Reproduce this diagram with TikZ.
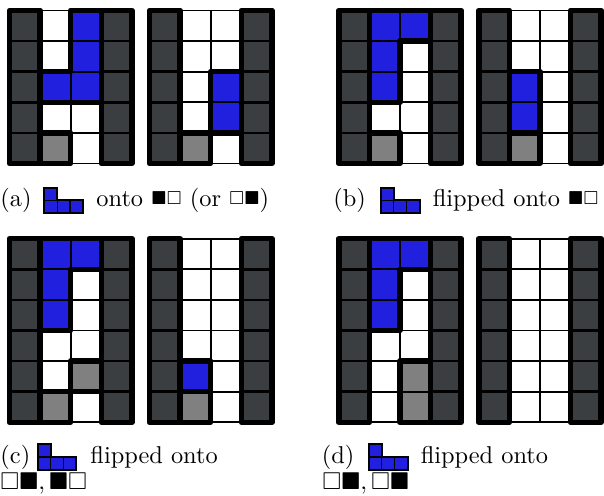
\documentclass[tikz,border=0pt]{standalone}
\usepackage{amsmath, amssymb}
\usepackage{tikz}
\usetikzlibrary{arrows.meta, positioning}

\definecolor{wallgray}{RGB}{59,62,65}
\definecolor{pieceblue}{RGB}{32,32,222}
\definecolor{holegray}{RGB}{128,128,128}

\tikzset{
    wall/.style={fill=wallgray},
    piece/.style={fill=pieceblue, draw=black, line width=0.7pt},
    hole/.style={fill=holegray, draw=black, line width=0.7pt},
    gridline/.style={line width=0.7pt},
    wallline/.style={line width=1.1pt},
    heavy/.style={line width=2.26pt, line join=round},
    iconcell/.style={fill=pieceblue, draw=black, line width=0.5pt},
    iconframe/.style={line width=0.8pt},
    caption/.style={anchor=base west, inner sep=0pt},
}

\begin{document}
\begin{tikzpicture}[x=12.56pt, y=12.56pt]
    \useasboundingbox (0,0) rectangle (19.739,16.209);

    % walls and empty cells of the eight boards
    \foreach \bx/\by/\n in {0.31/10.866/5, 4.886/10.866/5, 11.072/10.866/5, 15.647/10.866/5,
                            0.31/2.408/6, 4.886/2.408/6, 11.072/2.408/6, 15.647/2.408/6} {
        \begin{scope}[shift={(\bx,\by)}]
            \fill[wall] (0,0) rectangle (1,\n) (3,0) rectangle (4,\n);
            \draw[gridline, step=1] (1,0) grid (3,\n);
            \draw[wallline, step=1] (0,0) grid (1,\n) (3,0) grid (4,\n);
            \draw[heavy] (0,0) rectangle (1,\n) (3,0) rectangle (4,\n);
        \end{scope}
    }

    % (a)
    \begin{scope}[shift={(0.31,10.866)}]
        \foreach \c/\r in {2/4, 2/3, 1/2, 2/2} \path[piece] (\c,\r) rectangle +(1,1);
        \path[hole] (1,0) rectangle +(1,1);
        \draw[heavy] (2,5) -- (3,5) -- (3,2) -- (1,2) -- (1,3) -- (2,3) -- cycle;
        \draw[heavy] (1,0) rectangle (2,1);
    \end{scope}
    \begin{scope}[shift={(4.886,10.866)}]
        \foreach \c/\r in {2/2, 2/1} \path[piece] (\c,\r) rectangle +(1,1);
        \path[hole] (1,0) rectangle +(1,1);
        \draw[heavy] (2,1) rectangle (3,3);
        \draw[heavy] (1,0) rectangle (2,1);
    \end{scope}

    % (b)
    \begin{scope}[shift={(11.072,10.866)}]
        \foreach \c/\r in {1/4, 2/4, 1/3, 1/2} \path[piece] (\c,\r) rectangle +(1,1);
        \path[hole] (1,0) rectangle +(1,1);
        \draw[heavy] (1,5) -- (3,5) -- (3,4) -- (2,4) -- (2,2) -- (1,2) -- cycle;
        \draw[heavy] (1,0) rectangle (2,1);
    \end{scope}
    \begin{scope}[shift={(15.647,10.866)}]
        \foreach \c/\r in {1/2, 1/1} \path[piece] (\c,\r) rectangle +(1,1);
        \path[hole] (1,0) rectangle +(1,1);
        \draw[heavy] (1,1) rectangle (2,3);
        \draw[heavy] (1,0) rectangle (2,1);
    \end{scope}

    % (c)
    \begin{scope}[shift={(0.31,2.408)}]
        \foreach \c/\r in {1/5, 2/5, 1/4, 1/3} \path[piece] (\c,\r) rectangle +(1,1);
        \foreach \c/\r in {2/1, 1/0} \path[hole] (\c,\r) rectangle +(1,1);
        \draw[heavy] (1,6) -- (3,6) -- (3,5) -- (2,5) -- (2,3) -- (1,3) -- cycle;
        \draw[heavy] (2,1) rectangle (3,2) (1,0) rectangle (2,1);
    \end{scope}
    \begin{scope}[shift={(4.886,2.408)}]
        \path[piece] (1,1) rectangle +(1,1);
        \path[hole] (1,0) rectangle +(1,1);
        \draw[heavy] (1,1) rectangle (2,2) (1,0) rectangle (2,1);
    \end{scope}

    % (d)
    \begin{scope}[shift={(11.072,2.408)}]
        \foreach \c/\r in {1/5, 2/5, 1/4, 1/3} \path[piece] (\c,\r) rectangle +(1,1);
        \foreach \c/\r in {2/1, 2/0} \path[hole] (\c,\r) rectangle +(1,1);
        \draw[heavy] (1,6) -- (3,6) -- (3,5) -- (2,5) -- (2,3) -- (1,3) -- cycle;
        \draw[heavy] (2,0) rectangle (3,2);
    \end{scope}

    % small pieces in the captions
    \foreach \ix/\iy in {1.448/9.239, 12.451/9.239, 1.232/0.850, 12.059/0.850} {
        \begin{scope}[shift={(\ix,\iy)}, scale=0.42]
            \foreach \c/\r in {0/0, 1/0, 2/0, 0/1} \path[iconcell] (\c,\r) rectangle +(1,1);
            \draw[iconframe] (0,0) -- (3,0) -- (3,1) -- (1,1) -- (1,2) -- (0,2) -- cycle;
        \end{scope}
    }

    \node[caption] (laba) at (0,9.461) {(a)};
    \node[caption] (texta) at (3.137,9.461) {onto \raisebox{1pt}{$\scriptstyle\blacksquare\square$} (or \raisebox{1pt}{$\scriptstyle\square\blacksquare$})};
    \node[caption] (labb) at (10.882,9.461) {(b)};
    \node[caption] (textb) at (14.127,9.461) {flipped onto \raisebox{1pt}{$\scriptstyle\blacksquare\square$}};
    \node[caption] (labc) at (0,1.065) {(c)};
    \node[caption] (textc) at (2.941,1.065) {flipped onto};
    \node[caption] (pairc) at (0,0.212) {$\square\blacksquare, \blacksquare\square$};
    \node[caption] (labd) at (10.5,1.065) {(d)};
    \node[caption] (textd) at (13.735,1.065) {flipped onto};
    \node[caption] (paird) at (10.52,0.212) {$\square\blacksquare, \square\blacksquare$};
\end{tikzpicture}
\end{document}
